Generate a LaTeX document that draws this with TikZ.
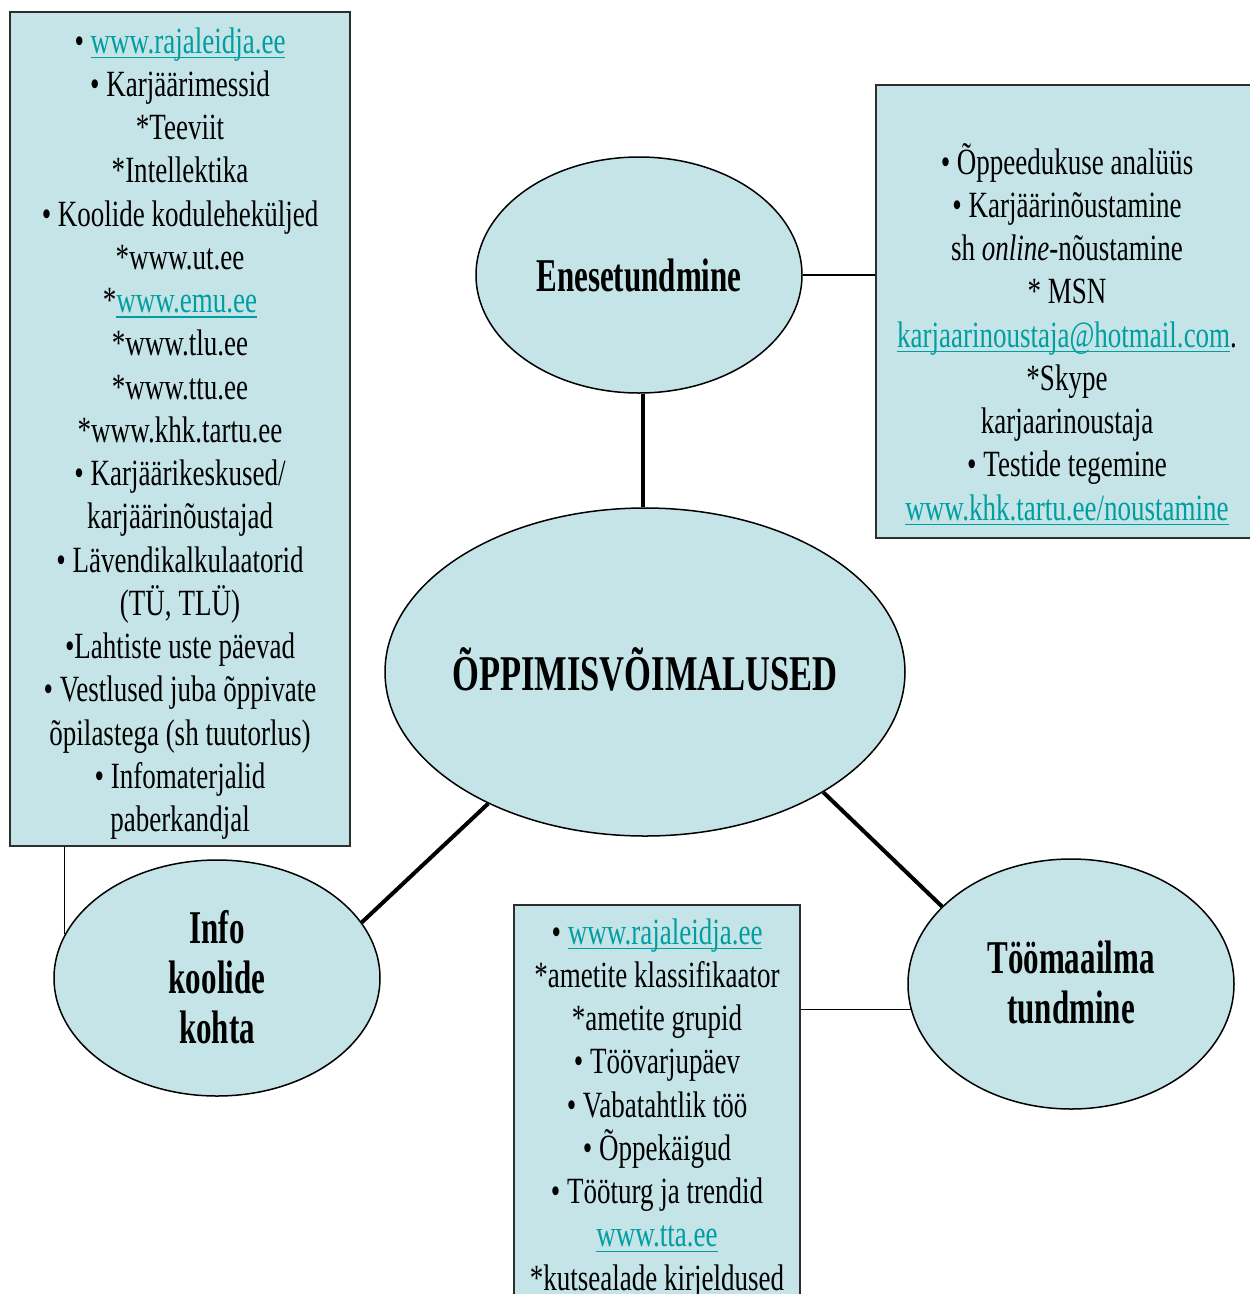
\documentclass[tikz,border=0pt]{standalone}
\usepackage{fontspec}
\setmainfont{Liberation Serif}[FakeStretch=0.73]
\newfontfamily\ovalfont{Liberation Serif}[FakeStretch=0.66]
\newfontfamily\hubfont{Liberation Serif}[FakeStretch=0.69]
\usetikzlibrary{shapes.geometric}

\definecolor{panel}{RGB}{197,228,232}
\definecolor{linkc}{RGB}{0,158,160}
\definecolor{frame}{RGB}{45,45,45}

% underlined web address in link colour
\newcommand\weblink[1]{{\color{linkc}\setbox0=\hbox{#1}\rlap{\rule[-5pt]{\wd0}{1.4pt}}\box0}}
% fixes the height of the first line of a list
\newcommand\firstline{\rule{0pt}{30pt}}

\begin{document}
\begin{tikzpicture}[x=1pt,y=-1pt,
  infobox/.style={rectangle,draw=frame,line width=2pt,fill=panel,inner sep=0pt},
  oval/.style={ellipse,draw=black,line width=1.5pt,fill=panel,inner sep=0pt},
  listtext/.style={align=center,inner sep=0pt,anchor=north,
    font=\fontsize{37}{43.25}\selectfont},
  ovaltext/.style={align=center,inner sep=0pt,
    font=\ovalfont\bfseries\fontsize{47}{50}\selectfont},
  hubtext/.style={align=center,inner sep=0pt,
    font=\hubfont\bfseries\fontsize{50}{50}\selectfont},
  spoke/.style={draw=black,line width=4pt},
  tie/.style={draw=black,line width=1.5pt}]

\path[use as bounding box] (0,0) rectangle (1250,1294);
\fill[white] (0,0) rectangle (1250,1294);
\clip (0,0) rectangle (1250,1294);

% list panels
\node[infobox,minimum width=340,minimum height=834] (lbox) at (180,429) {};
\node[infobox,minimum width=376,minimum height=453] (rbox) at (1064,311.5) {};
\node[infobox,minimum width=286,minimum height=405] (bbox) at (657,1107.5) {};

% ovals
\node[oval,minimum width=326,minimum height=236] (ene) at (639,275) {};
\node[oval,minimum width=520,minimum height=328] (hub) at (645,672) {};
\node[oval,minimum width=326,minimum height=236] (info) at (217,978) {};
\node[oval,minimum width=326,minimum height=250] (too) at (1071,984) {};

% connectors
\draw[spoke] (ene.south -| 643,0) -- (hub.north -| 643,0);
\draw[spoke] (hub.220) -- (info.21);
\draw[spoke] (hub.326) -- (too.149);
\draw[tie] (ene.east) -- (ene.east -| rbox.west);
\draw[tie] (lbox.south -| info.164) -- (info.164);
\draw[tie] (too.189) -- (too.189 -| bbox.east);

% oval labels
\node[ovaltext] (eneT) at (ene) {Enesetundmine};
\node[hubtext] (hubT) at ([yshift=3pt]hub.center) {ÕPPIMISVÕIMALUSED};
\node[ovaltext] (infoT) at ([yshift=1pt]info.center) {Info\\koolide\\kohta};
\node[ovaltext] (tooT) at ([yshift=2pt]too.center) {Töömaailma\\tundmine};

% panel texts
\node[listtext] (lboxT) at (180,23) {\firstline• \weblink{www.rajaleidja.ee}\\
  • Karjäärimessid\\
  *Teeviit\\
  *Intellektika\\
  • Koolide koduleheküljed\\
  *www.ut.ee\\
  *\weblink{www.emu.ee}\\
  *www.tlu.ee\\
  *www.ttu.ee\\
  *www.khk.tartu.ee\\
  • Karjäärikeskused/\\
  karjäärinõustajad\\
  • Lävendikalkulaatorid\\
  (TÜ, TLÜ)\\
  •Lahtiste uste päevad\\
  • Vestlused juba õppivate\\
  õpilastega (sh tuutorlus)\\
  • Infomaterjalid\\
  paberkandjal};

\node[listtext] (rboxT) at (1067,143) {\firstline• Õppeedukuse analüüs\\
  • Karjäärinõustamine\\
  sh \textit{online}-nõustamine\\
  * MSN\\
  \weblink{karjaarinoustaja@hotmail.com}.\\
  *Skype\\
  karjaarinoustaja\\
  • Testide tegemine\\
  \weblink{www.khk.tartu.ee/noustamine}};

\node[listtext] (bboxT) at (657,914) {\firstline• \weblink{www.rajaleidja.ee}\\
  *ametite klassifikaator\\
  *ametite grupid\\
  • Töövarjupäev\\
  • Vabatahtlik töö\\
  • Õppekäigud\\
  • Tööturg ja trendid\\
  \weblink{www.tta.ee}\\
  *kutsealade kirjeldused};
\end{tikzpicture}
\end{document}
